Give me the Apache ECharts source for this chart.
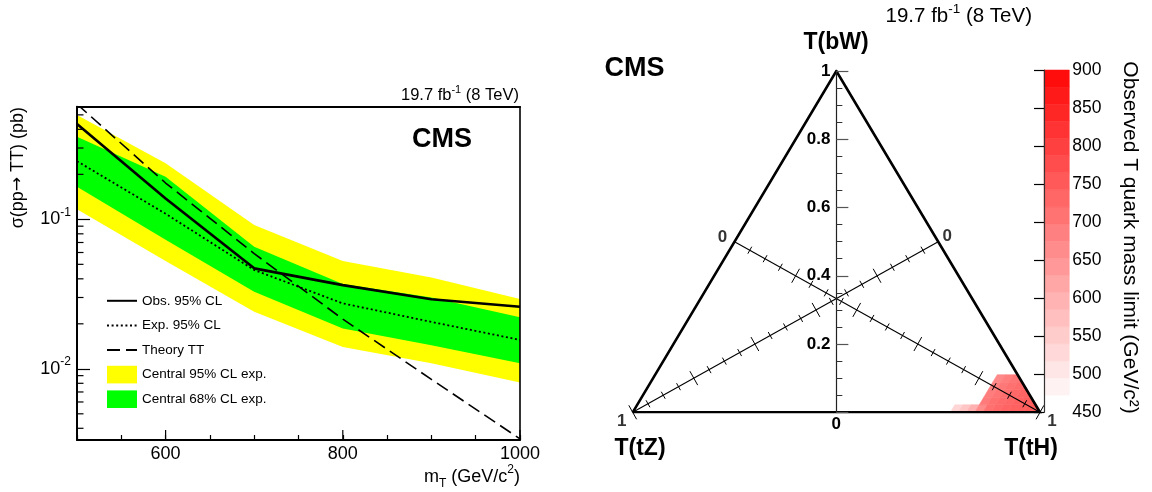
<!DOCTYPE html>
<html>
<head>
<meta charset="utf-8">
<script src="https://cdn.jsdelivr.net/npm/echarts@6.0.0/dist/echarts.min.js"></script>
<style>
  html, body { margin: 0; padding: 0; background: #fff; }
  #main { width: 1152px; height: 492px; }
</style>
</head>
<body>
<div id="main"></div>
<script>
// ---- left panel: cross section limits vs T mass ----
const masses = [500, 600, 700, 800, 900, 1000];
const obsLimit = [0.435, 0.138, 0.047, 0.0363, 0.0292, 0.026];
const expLimit = [0.245, 0.109, 0.0458, 0.0274, 0.0206, 0.0156];
const band68Lo = [0.165, 0.073, 0.0328, 0.0186, 0.0144, 0.0109];
const band68Hi = [0.357, 0.193, 0.0656, 0.037, 0.030, 0.0221];
const band95Lo = [0.117, 0.0526, 0.0241, 0.0140, 0.0109, 0.0081];
const band95Hi = [0.499, 0.237, 0.0916, 0.0526, 0.0409, 0.0293];
const theoryXsec = [0.59, 0.175, 0.059, 0.0215, 0.0085, 0.0034];
const yMinorTicks = [0.004, 0.005, 0.006, 0.007, 0.008, 0.009,
  0.02, 0.03, 0.04, 0.05, 0.06, 0.07, 0.08, 0.09, 0.2, 0.3, 0.4, 0.5];
const xMajorTicks = [600, 800, 1000];

// ---- right panel: observed mass limit in the branching fraction triangle ----
// rows of cells: bW start, first tH, then limits (GeV) for consecutive tH cells
const heatRowBW = [0, 0.022, 0.044, 0.066, 0.088];
const heatRowStartTH = [0.78, 0.84, 0.84, 0.84, 0.84];
const heatRowLimit = [
  [525, 550, 590, 655, 700, 715, 725, 730, 735, 740, 740],
  [685, 700, 712, 720, 728, 735, 738],
  [680, 695, 708, 716, 724, 730],
  [672, 688, 700, 710, 718],
  [660, 678, 692, 700]
];
const cellTH = 0.02, cellBW = 0.022;
const zMin = 450, zMax = 900, zContours = 20;

const FONT = '"Liberation Sans", Arial, Helvetica, sans-serif';

// ternary -> cartesian (x centred on the bW axis)
function toXY(th, bw) { return [th + bw / 2 - 0.5, bw]; }
function clipTernary(poly) {
  const out = [];
  for (let i = 0; i < poly.length; i++) {
    const a = poly[i], b = poly[(i + 1) % poly.length];
    const fa = 1 - a[0] - a[1], fb = 1 - b[0] - b[1];
    if (fa >= 0) out.push(a);
    if ((fa >= 0) !== (fb >= 0)) {
      const s = fa / (fa - fb);
      out.push([a[0] + (b[0] - a[0]) * s, a[1] + (b[1] - a[1]) * s]);
    }
  }
  return out;
}

const vTZ = toXY(0, 0), vTH = toXY(1, 0), vBW = toXY(0, 1);
const midRight = toXY(0.5, 0.5), midLeft = toXY(0, 0.5);
const medians = [[vTZ, midRight], [vTH, midLeft]];

const heatData = [];
heatRowLimit.forEach((row, r) => {
  row.forEach((lim, k) => {
    heatData.push([heatRowStartTH[r] + k * cellTH, heatRowBW[r], lim]);
  });
});

const medianTickData = [];
for (let a = 0; a < 2; a++) {
  for (let k = 0; k <= 20; k++) medianTickData.push([a, k * 0.05]);
}

const barData = [];
for (let i = 0; i < zContours; i++) {
  const lo = zMin + (zMax - zMin) * i / zContours;
  const hi = zMin + (zMax - zMin) * (i + 1) / zContours;
  barData.push([0, hi, lo]);
}

function bandItem(lo, hi, color) {
  return function (params, api) {
    if (params.dataIndex !== 0) return null;
    const pts = [];
    for (let i = 0; i < masses.length; i++) pts.push(api.coord([masses[i], hi[i]]));
    for (let i = masses.length - 1; i >= 0; i--) pts.push(api.coord([masses[i], lo[i]]));
    return { type: 'polygon', shape: { points: pts }, style: { fill: color } };
  };
}

const chart = echarts.init(document.getElementById('main'));
const TRI_W = 407.3;

const option = {
  animation: false,
  textStyle: { fontFamily: FONT, color: '#000' },
  grid: [
    { left: 77, top: 106.7, width: 443, height: 333.3 },
    { left: 632.7, top: 71, width: TRI_W, height: 341.3 },
    { left: 1044, top: 70, width: 25.3, height: 342.3 }
  ],
  legend: {
    left: 101, top: 287, orient: 'vertical',
    itemWidth: 30, itemHeight: 17.6, itemGap: 7,
    selectedMode: false,
    textStyle: { fontFamily: FONT, fontSize: 13.5, lineHeight: 17.6, color: '#000' },
    data: [
      { name: 'Obs. 95% CL', itemStyle: { opacity: 0 } },
      { name: 'Exp. 95% CL', itemStyle: { opacity: 0 } },
      { name: 'Theory TT', itemStyle: { opacity: 0 } },
      { name: 'Central 95% CL exp.', icon: 'rect' },
      { name: 'Central 68% CL exp.', icon: 'rect' }
    ]
  },
  visualMap: {
    type: 'continuous', show: false, min: zMin, max: zMax, dimension: 2,
    seriesIndex: [8, 13],
    inRange: { color: ['#ffffff', '#ff0000'] }
  },
  xAxis: [
    {
      gridIndex: 0, type: 'value', min: 500, max: 1000, interval: 50, z: 5,
      axisLine: { lineStyle: { color: '#000', width: 2 } },
      axisTick: { inside: true, length: 5, lineStyle: { color: '#000', width: 1.2 } },
      splitLine: { show: false },
      axisLabel: {
        margin: 5, fontSize: 18, color: '#000', fontFamily: FONT,
        formatter: v => (v % 200 === 0 ? String(v) : '')
      }
    },
    {
      gridIndex: 0, type: 'value', position: 'top', min: 500, max: 1000, z: 5,
      axisLine: { lineStyle: { color: '#000', width: 2 } },
      axisTick: { show: false }, axisLabel: { show: false }, splitLine: { show: false }
    },
    {
      gridIndex: 1, type: 'value', min: -0.5, max: 0.5, interval: 0.5,
      axisLine: { show: false }, axisTick: { show: false }, splitLine: { show: false },
      axisLabel: {
        margin: 4, fontSize: 17, fontWeight: 'bold', color: '#000', fontFamily: FONT,
        formatter: v => (Math.abs(v) < 1e-9 ? '0' : '')
      }
    },
    {
      gridIndex: 2, type: 'value', min: 0, max: 1, show: false
    }
  ],
  yAxis: [
    {
      gridIndex: 0, type: 'log', logBase: 10, min: 0.00334, max: 0.567, z: 5,
      axisLine: { lineStyle: { color: '#000', width: 2 } },
      axisTick: { inside: true, length: 13, lineStyle: { color: '#000', width: 1.2 } },
      splitLine: { show: false },
      axisLabel: {
        margin: 6, color: '#000', fontFamily: FONT,
        showMinLabel: false, showMaxLabel: false,
        formatter: v => {
          const e = Math.log10(v);
          if (Math.abs(e - Math.round(e)) > 1e-6) return '';
          return '{b|10}{s|' + Math.round(e) + '}';
        },
        rich: {
          b: { fontSize: 18, lineHeight: 26, fontFamily: FONT, color: '#000' },
          s: { fontSize: 12, lineHeight: 12, verticalAlign: 'top', fontFamily: FONT, color: '#000' }
        }
      }
    },
    {
      gridIndex: 0, type: 'log', position: 'right', min: 0.00334, max: 0.567, z: 5,
      axisLine: { lineStyle: { color: '#000', width: 1.6 } },
      axisTick: { show: false }, axisLabel: { show: false }, splitLine: { show: false }
    },
    {
      // T(bW) axis, moved to the triangle's centre line
      gridIndex: 1, type: 'value', min: 0, max: 1, interval: 0.2, z: 5,
      offset: -TRI_W / 2,
      axisLine: { onZero: false, lineStyle: { color: '#222', width: 1.2 } },
      axisTick: { inside: true, length: 12, lineStyle: { color: '#555', width: 1.2 } },
      minorTick: { show: true, splitNumber: 4, length: 6, lineStyle: { color: '#333', width: 1 } },
      splitLine: { show: false },
      axisLabel: {
        margin: 6, fontSize: 17, fontWeight: 'bold', color: '#000', fontFamily: FONT,
        formatter: v => (v < 1e-9 ? '' : String(+v.toFixed(1)))
      }
    },
    {
      gridIndex: 2, type: 'value', position: 'right', min: zMin, max: zMax, interval: 50, z: 5,
      axisLine: { lineStyle: { color: '#333', width: 1.2 } },
      axisTick: { inside: true, length: 10, lineStyle: { color: '#000', width: 1.2 } },
      splitLine: { show: false },
      axisLabel: { margin: 3, fontSize: 17.5, color: '#000', fontFamily: FONT }
    }
  ],
  series: [
    // 0,1 bands
    {
      name: 'Central 95% CL exp.', type: 'custom', xAxisIndex: 0, yAxisIndex: 0,
      itemStyle: { color: '#ffff00' },
      data: masses.map((m, i) => [m, band95Lo[i], band95Hi[i]]),
      renderItem: bandItem(band95Lo, band95Hi, '#ffff00'), z: 1
    },
    {
      name: 'Central 68% CL exp.', type: 'custom', xAxisIndex: 0, yAxisIndex: 0,
      itemStyle: { color: '#00ff00' },
      data: masses.map((m, i) => [m, band68Lo[i], band68Hi[i]]),
      renderItem: bandItem(band68Lo, band68Hi, '#00ff00'), z: 1
    },
    // 2-4 lines
    {
      name: 'Exp. 95% CL', type: 'line', xAxisIndex: 0, yAxisIndex: 0, symbol: 'none',
      itemStyle: { color: '#000' },
      lineStyle: { color: '#000', width: 1.8, type: [2, 2.6] },
      data: masses.map((m, i) => [m, expLimit[i]]), z: 3
    },
    {
      name: 'Theory TT', type: 'line', xAxisIndex: 0, yAxisIndex: 0, symbol: 'none',
      itemStyle: { color: '#000' },
      lineStyle: { color: '#000', width: 1.6, type: [13, 6] },
      data: masses.map((m, i) => [m, theoryXsec[i]]), z: 3
    },
    {
      name: 'Obs. 95% CL', type: 'line', xAxisIndex: 0, yAxisIndex: 0, symbol: 'none',
      itemStyle: { color: '#000' },
      lineStyle: { color: '#000', width: 2.6 },
      data: masses.map((m, i) => [m, obsLimit[i]]), z: 3
    },
    // 5 minor log ticks
    {
      type: 'custom', xAxisIndex: 0, yAxisIndex: 0, z: 6, silent: true,
      data: yMinorTicks.map(v => [500, v]),
      renderItem: (params, api) => {
        const p = api.coord([api.value(0), api.value(1)]);
        return { type: 'line', shape: { x1: p[0], y1: p[1], x2: p[0] + 6.5, y2: p[1] },
          style: { stroke: '#000', lineWidth: 1.2 } };
      }
    },
    // 6 major x ticks
    {
      type: 'custom', xAxisIndex: 0, yAxisIndex: 0, z: 6, silent: true,
      data: xMajorTicks.map(m => [m, 0.00334]),
      renderItem: (params, api) => {
        const p = api.coord([api.value(0), api.value(1)]);
        return { type: 'line', shape: { x1: p[0], y1: p[1], x2: p[0], y2: p[1] - 10 },
          style: { stroke: '#000', lineWidth: 1.2 } };
      }
    },
    // 7 triangle edges
    {
      type: 'line', xAxisIndex: 2, yAxisIndex: 2, symbol: 'none', z: 4, silent: true,
      lineStyle: { color: '#000', width: 2.6, join: 'miter' },
      data: [vTZ, vTH, vBW, vTZ]
    },
    // 8 heat cells
    {
      type: 'custom', xAxisIndex: 2, yAxisIndex: 2, z: 2, silent: true,
      data: heatData,
      renderItem: (params, api) => {
        const th = api.value(0), bw = api.value(1);
        const poly = clipTernary([[th, bw], [th + cellTH, bw], [th + cellTH, bw + cellBW], [th, bw + cellBW]]);
        if (poly.length < 3) return null;
        const c = api.visual('color');
        return { type: 'polygon', shape: { points: poly.map(p => api.coord(toXY(p[0], p[1]))) },
          style: { fill: c, stroke: c, lineWidth: 0.6 } };
      }
    },
    // 9,10 median axes
    {
      type: 'line', xAxisIndex: 2, yAxisIndex: 2, symbol: 'none', z: 3, silent: true,
      lineStyle: { color: '#000', width: 1.1 }, data: medians[0]
    },
    {
      type: 'line', xAxisIndex: 2, yAxisIndex: 2, symbol: 'none', z: 3, silent: true,
      lineStyle: { color: '#000', width: 1.1 }, data: medians[1]
    },
    // 11 median ticks
    {
      type: 'custom', xAxisIndex: 2, yAxisIndex: 2, z: 3, silent: true,
      data: medianTickData,
      renderItem: (params, api) => {
        const ax = medians[api.value(0)], t = api.value(1);
        const p0 = api.coord(ax[0]), p1 = api.coord(ax[1]);
        const dx = p1[0] - p0[0], dy = p1[1] - p0[1], len = Math.hypot(dx, dy);
        const nx = -dy / len, ny = dx / len;
        const px = p0[0] + dx * t, py = p0[1] + dy * t;
        const major = Math.abs(t * 5 - Math.round(t * 5)) < 1e-6;
        const half = major ? 8 : 4;
        return { type: 'line',
          shape: { x1: px - nx * half, y1: py - ny * half, x2: px + nx * half, y2: py + ny * half },
          style: { stroke: '#000', lineWidth: 1 } };
      }
    },
    // 12 median end labels
    {
      type: 'scatter', xAxisIndex: 2, yAxisIndex: 2, symbolSize: 1, silent: true, z: 4,
      itemStyle: { color: 'rgba(0,0,0,0)' },
      label: { show: true, fontSize: 17, fontWeight: 'bold', color: '#000', fontFamily: FONT,
        formatter: p => p.data.text },
      data: [
        { value: vTZ, text: '1', label: { offset: [-11, 9.5] } },
        { value: midRight, text: '0', label: { offset: [9, -5] } },
        { value: vTH, text: '1', label: { offset: [12, 9.5] } },
        { value: midLeft, text: '0', label: { offset: [-12, -4] } }
      ]
    },
    // 13 colour bar
    {
      type: 'custom', xAxisIndex: 3, yAxisIndex: 3, z: 2, silent: true,
      data: barData,
      renderItem: (params, api) => {
        const p0 = api.coord([0, api.value(2)]), p1 = api.coord([1, api.value(1)]);
        const c = api.visual('color');
        return { type: 'rect', shape: { x: p0[0], y: p1[1], width: p1[0] - p0[0], height: p0[1] - p1[1] },
          style: { fill: c, stroke: c, lineWidth: 0.5 } };
      }
    }
  ],
  graphic: [
    { type: 'text', x: 18, y: 107, rotation: Math.PI / 2,
      style: { text: '{a|σ(pp}{r|→}{a| TT) (pb)}', fill: '#000', align: 'right', verticalAlign: 'middle',
        rich: {
          a: { fontSize: 18, fontFamily: FONT },
          r: { fontSize: 17, fontFamily: '"DejaVu Sans", sans-serif' }
        } } },
    { type: 'text', x: 520, y: 477,
      style: { text: '{a|m}{sub|T}{a| (GeV/c}{sup|2}{a|)}', align: 'right', verticalAlign: 'middle', fill: '#000',
        rich: {
          a: { fontSize: 18, lineHeight: 26, fontFamily: FONT },
          sub: { fontSize: 12, lineHeight: 12, verticalAlign: 'bottom', fontFamily: FONT },
          sup: { fontSize: 12, lineHeight: 12, verticalAlign: 'top', fontFamily: FONT }
        } } },
    { type: 'text', x: 519, y: 95.5,
      style: { text: '{a|19.7 fb}{s|-1}{a| (8 TeV)}', align: 'right', verticalAlign: 'middle', fill: '#000',
        rich: {
          a: { fontSize: 16.5, lineHeight: 22, fontFamily: FONT },
          s: { fontSize: 11, lineHeight: 11, verticalAlign: 'top', fontFamily: FONT }
        } } },
    { type: 'text', x: 442, y: 140,
      style: { text: 'CMS', font: 'bold 27px ' + FONT, fill: '#000', align: 'center', verticalAlign: 'middle' } },
    { type: 'text', x: 634.5, y: 69,
      style: { text: 'CMS', font: 'bold 27px ' + FONT, fill: '#000', align: 'center', verticalAlign: 'middle' } },
    { type: 'text', x: 1032, y: 16,
      style: { text: '{a|19.7 fb}{s|-1}{a| (8 TeV)}', align: 'right', verticalAlign: 'middle', fill: '#000',
        rich: {
          a: { fontSize: 20.5, lineHeight: 27, fontFamily: FONT },
          s: { fontSize: 13.5, lineHeight: 13.5, verticalAlign: 'top', fontFamily: FONT }
        } } },
    { type: 'text', x: 836, y: 43,
      style: { text: 'T(bW)', font: 'bold 23px ' + FONT, fill: '#000', align: 'center', verticalAlign: 'middle' } },
    { type: 'text', x: 640, y: 449,
      style: { text: 'T(tZ)', font: 'bold 23px ' + FONT, fill: '#000', align: 'center', verticalAlign: 'middle' } },
    { type: 'text', x: 1031, y: 449,
      style: { text: 'T(tH)', font: 'bold 23px ' + FONT, fill: '#000', align: 'center', verticalAlign: 'middle' } },
    { type: 'text', x: 1130, y: 237.5, rotation: -Math.PI / 2,
      style: { text: 'Observed T quark mass limit (GeV/c²)', font: '21px ' + FONT, fill: '#000',
        align: 'center', verticalAlign: 'middle' } }
  ]
};

chart.setOption(option);
window.addEventListener('resize', chart.resize);
</script>
</body>
</html>
